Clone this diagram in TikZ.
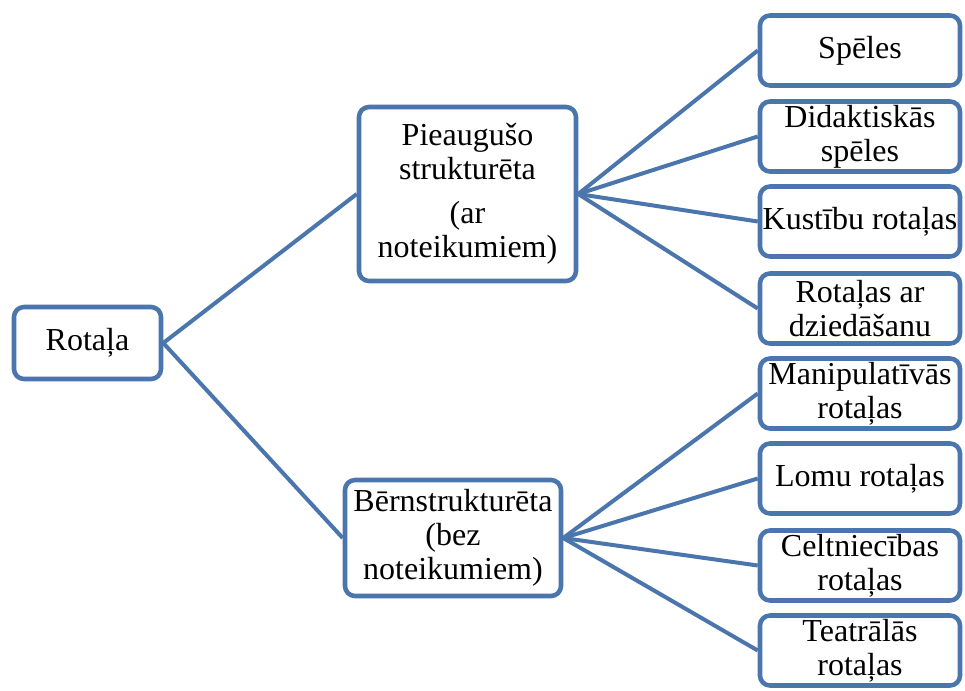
\documentclass[tikz,border=0pt]{standalone}
\usepackage{fontspec}
\setmainfont{Liberation Serif}
\definecolor{bl}{RGB}{74,117,173}
\begin{document}
\begin{tikzpicture}[x=0.75pt,y=-0.75pt,
  box/.style={draw=bl,line width=3.4pt,rounded corners=7.5pt,inner sep=0pt,align=center,
    font=\fontsize{24}{25.5}\selectfont},
  rbox/.style={box,minimum width=150pt,minimum height=52.5pt},
  link/.style={draw=bl,line width=3pt}]
\useasboundingbox (0,0) rectangle (965,690);
\node[box,minimum width=110.25pt,minimum height=54pt] (root) at (87.5,343) {Rotaļa};
\node[box,minimum width=162.75pt,minimum height=130.5pt] (pa) at (467.5,194) {Pieaugušo\\strukturēta\\[7.5pt](ar\\noteikumiem)};
\node[box,minimum width=162pt,minimum height=87pt] (be) at (453,538) {Bērnstrukturēta\\(bez\\noteikumiem)};
\node[rbox] (s1) at (860,50.5) {Spēles};
\node[rbox] (s2) at (860,136.5) {Didaktiskās\\spēles};
\node[rbox] (s3) at (860,221.5) {Kustību rotaļas};
\node[rbox] (s4) at (860,308.5) {Rotaļas ar\\dziedāšanu};
\node[rbox] (b1) at (860,393.5) {Manipulatīvās\\rotaļas};
\node[rbox] (b2) at (860,478.5) {Lomu rotaļas};
\node[rbox] (b3) at (860,565.5) {Celtniecības\\rotaļas};
\node[rbox] (b4) at (860,650.5) {Teatrālās\\rotaļas};
\draw[link] (root.east) -- (pa.west);
\draw[link] (root.east) -- (be.west);
\foreach \n in {s1,s2,s3,s4} \draw[link] (pa.east) -- (\n.west);
\foreach \n in {b1,b2,b3,b4} \draw[link] (be.east) -- (\n.west);
\end{tikzpicture}
\end{document}
